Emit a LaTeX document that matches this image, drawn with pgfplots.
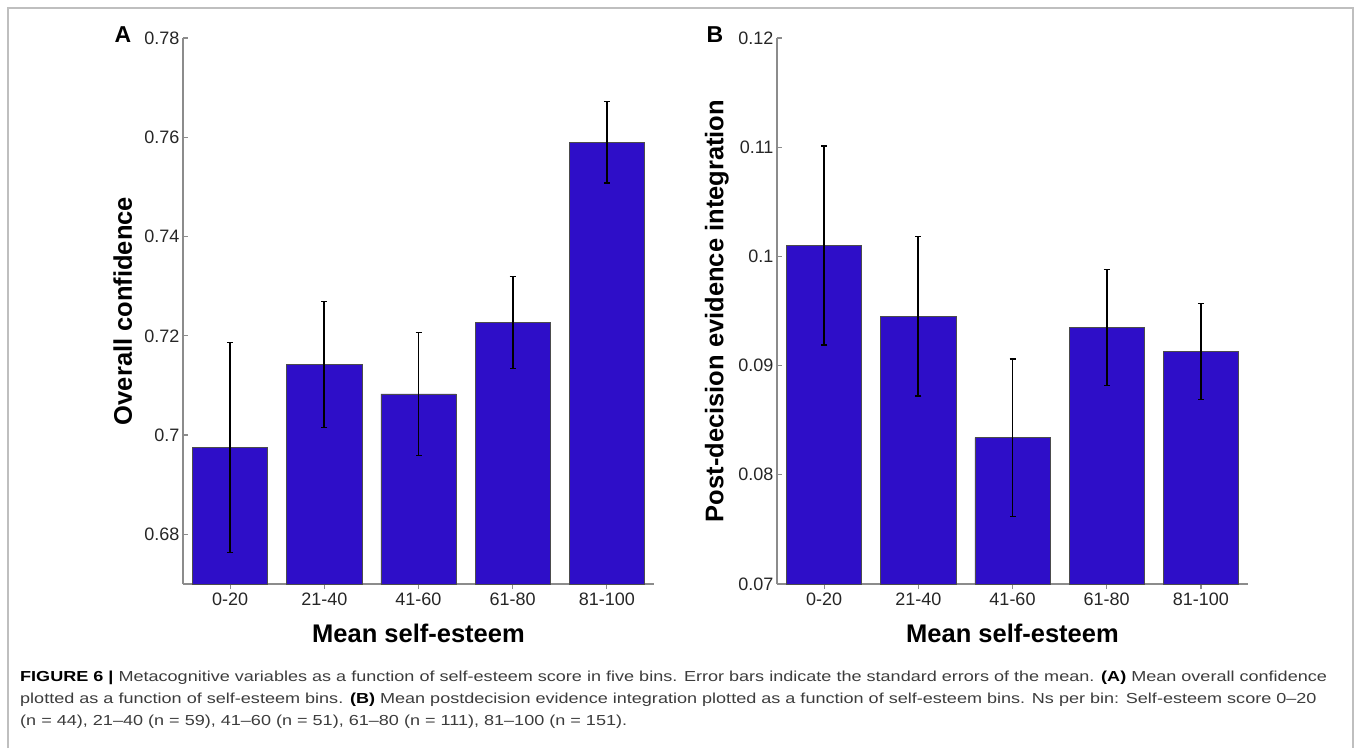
\documentclass[border=0pt]{standalone}
\usepackage{fontspec}
\setmainfont{Liberation Sans}
\newfontfamily\capfont{Liberation Sans}[FakeStretch=1.245]
\usepackage{pgfplots}
\pgfplotsset{compat=1.18}
\definecolor{barblue}{RGB}{46,14,200}
\definecolor{axgray}{RGB}{140,140,140}
\definecolor{txt}{RGB}{38,38,38}
\definecolor{captxt}{RGB}{60,60,60}

\pgfplotsset{
  esteem/.style={
    scale only axis, width=471pt, height=546pt,
    anchor=south west,
    axis x line*=bottom, axis y line*=left,
    axis line style={axgray, line width=1.2pt, -},
    tick align=inside, major tick length=5pt,
    tick style={axgray, line width=1.2pt},
    xmin=0.5, xmax=5.5, xtick={1,...,5},
    xticklabels={0-20,21-40,41-60,61-80,81-100},
    ticklabel style={font=\fontsize{18}{18}\selectfont, text=txt},
    /pgf/number format/assume math mode=true,
    scaled y ticks=false,
    yticklabel style={/pgf/number format/fixed},
    label style={font=\bfseries\fontsize{25.5}{25.5}\selectfont, text=black},
    xlabel={Mean self-esteem},
    xlabel style={at={(axis description cs:0.5,-0.09)}, anchor=center},
    ylabel style={at={(axis description cs:-0.128,0.5)}, anchor=center},
    ybar, bar width=0.8,
  },
  esteembar/.style={fill=barblue, draw=black!70, line width=0.6pt,
    error bars/.cd, y dir=both, y explicit,
    error bar style={black, line width=1.9pt},
    error mark options={rotate=90, black, line width=1.5pt, mark size=3pt}},
}

\begin{document}
\begin{tikzpicture}
\path[use as bounding box] (0pt,0pt) rectangle (1357pt,748pt);
\draw[line width=1.2pt, black!25] (8pt,0pt) -- (8pt,740pt) -- (1353pt,740pt) -- (1353pt,0pt);

% (A) overall confidence
\begin{axis}[esteem, at={(183pt,164pt)},
    ymin=0.67, ymax=0.78, ytick={0.68,0.7,0.72,0.74,0.76,0.78},
    ylabel={Overall confidence}]
  \addplot[esteembar] coordinates {
    (1,0.6975) +- (0,0.0212)
    (2,0.7142) +- (0,0.0127)
    (3,0.7083) +- (0,0.0124)
    (4,0.7227) +- (0,0.0093)
    (5,0.7590) +- (0,0.0082)
  };
\end{axis}

% (B) post-decision evidence integration
\begin{axis}[esteem, at={(777pt,164pt)},
    ymin=0.07, ymax=0.12, ytick={0.07,0.08,0.09,0.1,0.11,0.12},
    ylabel={Post-decision evidence integration}]
  \addplot[esteembar] coordinates {
    (1,0.1010) +- (0,0.0091)
    (2,0.0945) +- (0,0.0073)
    (3,0.0834) +- (0,0.0072)
    (4,0.0935) +- (0,0.0053)
    (5,0.0913) +- (0,0.0044)
  };
\end{axis}

\node[anchor=base, font=\bfseries\fontsize{23}{23}\selectfont] at (123pt,705pt) {A};
\node[anchor=base, font=\bfseries\fontsize{23}{23}\selectfont] at (715pt,705pt) {B};

\node[anchor=base west, align=left, inner sep=0pt, text=captxt,
      font=\capfont\fontsize{14.5}{22}\selectfont] at (20pt,23pt)
  {\textcolor{black}{\textbf{FIGURE 6 |}} Metacognitive variables as a function of self-esteem score in five bins. Error bars indicate the standard errors of the mean. \textcolor{black}{\textbf{(A)}} Mean overall confidence\\
   plotted as a function of self-esteem bins. \textcolor{black}{\textbf{(B)}} Mean postdecision evidence integration plotted as a function of self-esteem bins. Ns per bin: Self-esteem score 0–20\\
   (n = 44), 21–40 (n = 59), 41–60 (n = 51), 61–80 (n = 111), 81–100 (n = 151).};
\end{tikzpicture}
\end{document}
